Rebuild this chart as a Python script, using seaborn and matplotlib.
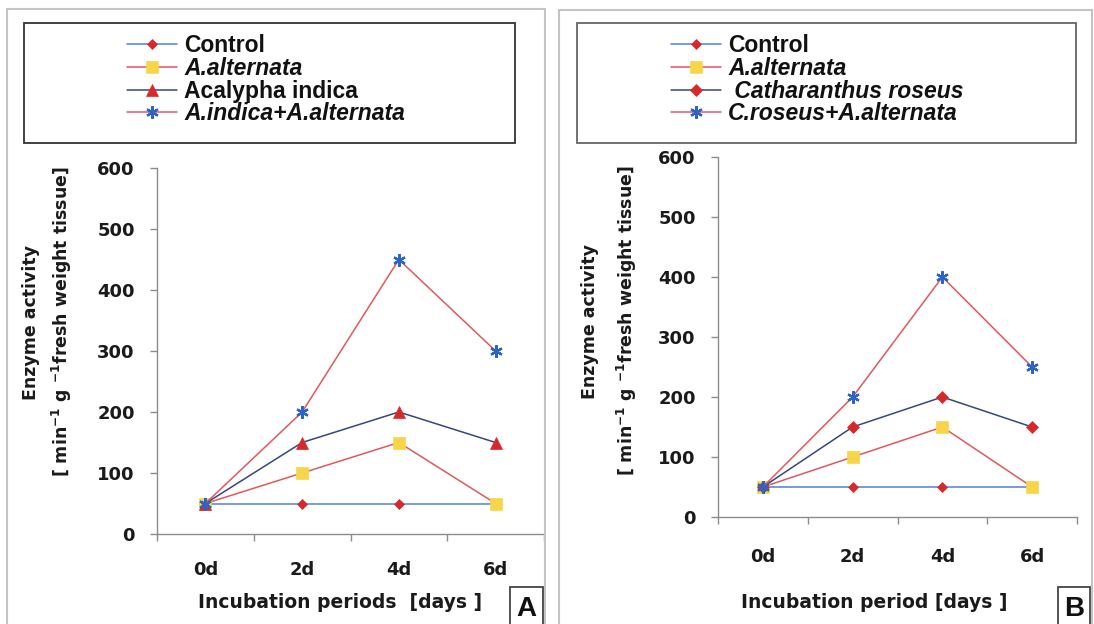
import numpy as np
import pandas as pd
import matplotlib
matplotlib.use("Agg")
import matplotlib.pyplot as plt
from matplotlib.patches import Rectangle
import seaborn as sns

# ---------------- data ----------------
days = ["0d", "2d", "4d", "6d"]

labels_a = ["Control", "A.alternata", "Acalypha indica", "A.indica+A.alternata"]
control_a = [50, 50, 50, 50]
alternata_a = [50, 100, 150, 50]
acalypha_a = [50, 150, 200, 150]
combo_a = [50, 200, 450, 300]

labels_b = ["Control", "A.alternata", " Catharanthus roseus", "C.roseus+A.alternata"]
control_b = [50, 50, 50, 50]
alternata_b = [50, 100, 150, 50]
roseus_b = [50, 150, 200, 150]
combo_b = [50, 200, 400, 250]

yticks = [0, 100, 200, 300, 400, 500, 600]

# ---------------- style ----------------
sns.set_style("white")
plt.rcParams["font.family"] = ["DejaVu Sans"]
plt.rcParams["mathtext.fontset"] = "dejavusans"

LINE_BLUE = "#4f80d8"
LINE_RED = "#e2575c"
LINE_NAVY = "#34477e"
MK_RED = "#d62a2a"
MK_YEL = "#f7d54a"
MK_BLUE = "#2c63c6"
STAR = (6, 2, 0)

W, H = 1094, 624
fig = plt.figure(figsize=(W / 100, H / 100), dpi=100)


def fx(px):
    return px / W


def fy(py):
    return 1 - py / H


# panel frames
for (x0, y0, x1, y1) in [(7, 9, 545, 626), (559, 10, 1092, 626)]:
    fig.add_artist(Rectangle((fx(x0), fy(y1)), fx(x1 - x0), (y1 - y0) / H,
                             transform=fig.transFigure, fill=False,
                             edgecolor="#c4c4c4", lw=1.5))
# legend boxes
for (x0, y0, x1, y1, ec) in [(24, 23, 515, 143, "#333333"), (577, 23, 1076, 143, "#666666")]:
    fig.add_artist(Rectangle((fx(x0), fy(y1)), fx(x1 - x0), (y1 - y0) / H,
                             transform=fig.transFigure, fill=False,
                             edgecolor=ec, lw=1.3))


def styles_for(labels):
    third_marker = "^" if labels[2] == "Acalypha indica" else "D"
    third_ms = 8 if third_marker == "^" else 6.5
    return [
        (LINE_BLUE, "D", MK_RED, MK_RED, 5.5, 0.5),
        (LINE_RED, "s", MK_YEL, MK_YEL, 9, 0.5),
        (LINE_NAVY, third_marker, MK_RED, MK_RED, third_ms, 0.5),
        (LINE_RED, STAR, MK_BLUE, MK_BLUE, 9, 1.6),
    ]


def draw_panel(rect, series, labels, ylab_xy, xlab_xy, xlab, tick_pad_x, leg_anchor,
               letter, letter_box, ylab_spacing):
    ax = fig.add_axes(rect)
    pos = np.arange(len(days))
    for vals, lab, (lc, mk, mfc, mec, ms, mew) in zip(series, labels, styles_for(labels)):
        df = pd.DataFrame({"pos": pos, "val": vals})
        sns.lineplot(data=df, x="pos", y="val", ax=ax, color=lc, lw=1.1,
                     marker=mk, markersize=ms, markerfacecolor=mfc,
                     markeredgecolor=mec, markeredgewidth=mew, label=lab,
                     legend=False)
    ax.set_xlim(-0.5, len(days) - 0.5)
    ax.set_ylim(0, 600)
    ax.set_yticks(yticks)
    ax.set_xticks(pos)
    ax.set_xticklabels(days)
    ax.set_xticks(np.arange(len(days) + 1) - 0.5, minor=True)
    for s in ["top", "right"]:
        ax.spines[s].set_visible(False)
    for s in ["left", "bottom"]:
        ax.spines[s].set_color("#8c8c8c")
        ax.spines[s].set_linewidth(1.0)
    ax.tick_params(axis="y", which="major", direction="out", length=5, width=1,
                   color="#8c8c8c", pad=11, labelsize=13, left=True)
    ax.tick_params(axis="x", which="major", length=0, pad=tick_pad_x, labelsize=13)
    ax.tick_params(axis="x", which="minor", direction="out", length=5, width=1,
                   color="#8c8c8c", bottom=True)
    for t in ax.get_xticklabels() + ax.get_yticklabels():
        t.set_fontweight("bold")
        t.set_color("#1a1a1a")
    ax.set_xlabel(xlab, fontsize=13.5, fontweight="bold", color="#1a1a1a", va="center")
    ax.xaxis.set_label_coords(*xlab_xy)
    ax.set_ylabel("Enzyme activity\n[ min$^{\\mathbf{-1}}$ g $^{\\mathbf{-1}}$fresh weight tissue]",
                  fontsize=12.5, fontweight="bold", color="#1a1a1a",
                  va="center", ha="center", multialignment="center",
                  linespacing=ylab_spacing)
    ax.yaxis.set_label_coords(*ylab_xy)
    ax.grid(False)

    h, l = ax.get_legend_handles_labels()
    leg = ax.legend(h, l, loc="upper left", bbox_to_anchor=leg_anchor,
                    bbox_transform=fig.transFigure, frameon=False, borderpad=0,
                    borderaxespad=0, labelspacing=-0.01, handlelength=2.2,
                    handletextpad=0.3, prop={"family": "Liberation Sans",
                                             "weight": "bold", "size": 16.5})
    for t, lab in zip(leg.get_texts(), l):
        if lab.strip() != "Control" and lab != "Acalypha indica":
            t.set_style("italic")
        t.set_color("#111111")

    x0, y0, x1, y1 = letter_box
    fig.add_artist(Rectangle((fx(x0), fy(y1)), fx(x1 - x0), (y1 - y0) / H,
                             transform=fig.transFigure, fill=False,
                             edgecolor="#444444", lw=1.3))
    fig.text(fx((x0 + x1) / 2), fy((y0 + y1) / 2 + 2), letter, ha="center", va="center",
             fontsize=20, fontweight="bold", family="Liberation Sans", color="#111111")
    return ax


# Panel A
axA_l, axA_r, axA_t, axA_b = 157, 544, 168, 534
draw_panel([fx(axA_l), fy(axA_b), fx(axA_r - axA_l), (axA_b - axA_t) / H],
           [control_a, alternata_a, acalypha_a, combo_a], labels_a,
           ylab_xy=((48 - axA_l) / (axA_r - axA_l), (axA_b - 322) / (axA_b - axA_t)),
           xlab_xy=((340 - axA_l) / (axA_r - axA_l), (axA_b - 602) / (axA_b - axA_t)),
           xlab="Incubation periods  [days ]", tick_pad_x=19.5,
           leg_anchor=(fx(127), fy(34)), letter="A", letter_box=(510, 587, 543, 626),
           ylab_spacing=1.5)

# Panel B
axB_l, axB_r, axB_t, axB_b = 718, 1077, 157, 517
draw_panel([fx(axB_l), fy(axB_b), fx(axB_r - axB_l), (axB_b - axB_t) / H],
           [control_b, alternata_b, roseus_b, combo_b], labels_b,
           ylab_xy=((610 - axB_l) / (axB_r - axB_l), (axB_b - 321) / (axB_b - axB_t)),
           xlab_xy=((874 - axB_l) / (axB_r - axB_l), (axB_b - 602) / (axB_b - axB_t)),
           xlab="Incubation period [days ]", tick_pad_x=22,
           leg_anchor=(fx(671), fy(34)), letter="B", letter_box=(1058, 587, 1090, 626),
           ylab_spacing=1.85)

fig.savefig("out.png", dpi=100)
